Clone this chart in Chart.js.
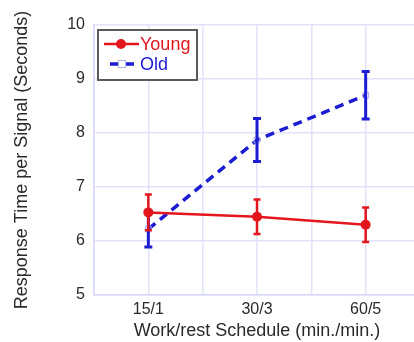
<!DOCTYPE html>
<html>
<head>
<meta charset="utf-8">
<script src="https://cdn.jsdelivr.net/npm/chart.js@4.4.1/dist/chart.umd.min.js"></script>
<style>
html,body{margin:0;padding:0;background:#fff;overflow:hidden;width:414px;height:342px;}
canvas{display:block;}
</style>
</head>
<body>
<canvas id="c" width="425" height="342"></canvas>
<script>
const categories = ['15/1', '30/3', '60/5'];
const youngMean = [6.53, 6.45, 6.30];
const youngErr  = [0.33, 0.32, 0.32];
const oldMean   = [6.22, 7.87, 8.70];
const oldErr    = [0.33, 0.40, 0.44];
const yTicks    = [5, 6, 7, 8, 9, 10];

const RED = '#e4161e';
const BLUE = '#1c1cd2';
const FONT = '"Liberation Sans", Arial, Helvetica, sans-serif';

const toPts = arr => arr.map((v, i) => ({x: i + 1, y: v}));

const errorBars = {
  id: 'errorBars',
  afterDatasetDraw(chart, args) {
    const ds = chart.data.datasets[args.index];
    const errs = ds.errors;
    if (!errs) return;
    const {ctx, scales: {x, y}} = chart;
    ctx.save();
    ctx.strokeStyle = ds.borderColor;
    ctx.lineWidth = ds.errWidth;
    ctx.setLineDash([]);
    ds.data.forEach((p, i) => {
      const px = x.getPixelForValue(p.x);
      const top = y.getPixelForValue(p.y + errs[i]);
      const bot = y.getPixelForValue(p.y - errs[i]);
      const cw = ds.capHalf;
      ctx.beginPath();
      ctx.moveTo(px, top); ctx.lineTo(px, bot);
      ctx.moveTo(px - cw, top); ctx.lineTo(px + cw, top);
      ctx.moveTo(px - cw, bot); ctx.lineTo(px + cw, bot);
      ctx.stroke();
    });
    ctx.restore();
  }
};

const boxLegend = {
  id: 'boxLegend',
  afterDraw(chart) {
    const ctx = chart.ctx;
    const bx = 98, by = 30, bw = 99, bh = 50;
    ctx.save();
    ctx.fillStyle = '#fff';
    ctx.fillRect(bx, by, bw, bh);
    ctx.strokeStyle = '#5a5a5a';
    ctx.lineWidth = 2;
    ctx.strokeRect(bx, by, bw, bh);
    const rows = [44, 64];
    chart.data.datasets.forEach((ds, i) => {
      const yy = rows[i];
      ctx.strokeStyle = ds.borderColor;
      ctx.lineWidth = ds.borderWidth;
      ctx.setLineDash(ds.borderDash || []);
      ctx.beginPath();
      if (i === 0) { ctx.moveTo(104, yy); ctx.lineTo(139, yy); }
      else { ctx.moveTo(110, yy); ctx.lineTo(137, yy); }
      ctx.stroke();
      ctx.setLineDash([]);
      if (ds.pointStyle === 'circle') {
        ctx.fillStyle = ds.pointBackgroundColor;
        ctx.beginPath(); ctx.arc(121, yy, 5, 0, Math.PI * 2); ctx.fill();
      } else {
        ctx.strokeStyle = ds.pointBorderColor;
        ctx.lineWidth = 1;
        ctx.strokeRect(118.5, yy - 3.5, 7, 7);
      }
      ctx.fillStyle = ds.borderColor;
      ctx.font = '18px ' + FONT;
      ctx.textBaseline = 'middle';
      ctx.textAlign = 'left';
      ctx.fillText(ds.label, 140, yy + 1);
    });
    ctx.restore();
  }
};

new Chart(document.getElementById('c'), {
  type: 'line',
  data: {
    datasets: [
      {
        label: 'Young', data: toPts(youngMean), errors: youngErr,
        borderColor: RED, borderWidth: 2.5, pointStyle: 'circle',
        pointRadius: 5, pointBackgroundColor: RED, pointBorderColor: RED, pointBorderWidth: 0,
        errWidth: 2.5, capHalf: 3.5, tension: 0
      },
      {
        label: 'Old', data: toPts(oldMean), errors: oldErr,
        borderColor: BLUE, borderWidth: 3.5, borderDash: [9, 6], pointStyle: 'rect',
        pointRadius: 4, pointBackgroundColor: 'rgba(255,255,255,0)', pointBorderColor: '#b4b4ee', pointBorderWidth: 1,
        errWidth: 3, capHalf: 4, tension: 0
      }
    ]
  },
  options: {
    responsive: false,
    devicePixelRatio: 1,
    animation: false,
    events: [],
    layout: {padding: {top: 25, right: 4, left: 0, bottom: 0}},
    plugins: {legend: {display: false}, tooltip: {enabled: false}},
    scales: {
      x: {
        type: 'linear', min: 0.5, max: 3.5,
        afterFit(s) { s.height = 47; },
        afterBuildTicks(s) {
          const t = [];
          for (let v = 0.5; v <= 3.5001; v += 0.5) t.push({value: v});
          s.ticks = t;
        },
        grid: {color: '#e2e2fa', lineWidth: 1.5, drawTicks: false},
        border: {color: '#d8d8f8', width: 1.5},
        ticks: {
          padding: 5, color: '#2a2a2a', font: {family: FONT, size: 16},
          maxRotation: 0, autoSkip: false,
          callback: v => Number.isInteger(v) ? categories[v - 1] : ''
        },
        title: {display: true, text: 'Work/rest Schedule (min./min.)', color: '#2a2a2a',
          font: {family: FONT, size: 18}, padding: {top: 0, bottom: 0}}
      },
      y: {
        min: 5, max: 10,
        afterFit(s) { s.width = 94; },
        afterBuildTicks(s) { s.ticks = yTicks.map(v => ({value: v})); },
        grid: {color: '#e2e2fa', lineWidth: 1.5, drawTicks: false},
        border: {color: '#d8d8f8', width: 1.5},
        ticks: {padding: 9, color: '#2a2a2a', font: {family: FONT, size: 16}},
        title: {display: true, text: 'Response Time per Signal (Seconds)', color: '#2a2a2a',
          font: {family: FONT, size: 18}, padding: {top: 11, bottom: 0}}
      }
    }
  },
  plugins: [errorBars, boxLegend]
});
</script>
</body>
</html>
